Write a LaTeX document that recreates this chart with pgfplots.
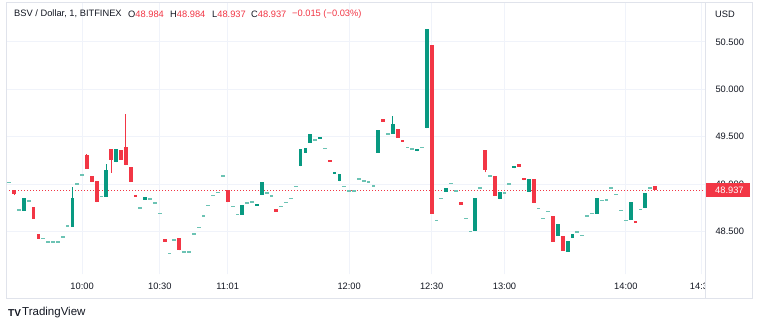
\documentclass[border=0pt]{standalone}
\usepackage{fontspec}
\setmainfont{Liberation Sans}
\usepackage{pgfplots}
\usepackage{pgfplotstable}
\pgfplotsset{compat=1.18}
\pgfdeclarelayer{bg}
\pgfsetlayers{bg,main}
\definecolor{tvgreen}{HTML}{089981}
\definecolor{tvred}{HTML}{F23645}
\definecolor{tvtext}{HTML}{131722}
\definecolor{tvgrid}{HTML}{F0F3FA}
\definecolor{tvborder}{HTML}{E0E3EB}
\definecolor{tvdoji}{HTML}{6CC3B4}

\pgfplotstableread{
i o h l c
0 49.018 49.018 49.018 49.018
1 48.941 48.941 48.885 48.895
2 48.729 48.729 48.729 48.729
3 48.722 48.849 48.722 48.849
4 48.825 48.825 48.825 48.825
5 48.754 48.754 48.637 48.637
6 48.472 48.472 48.423 48.423
7 48.430 48.430 48.430 48.430
8 48.391 48.391 48.391 48.391
9 48.391 48.391 48.391 48.391
10 48.391 48.391 48.391 48.391
11 48.444 48.444 48.444 48.444
12 48.563 48.563 48.563 48.563
13 48.550 48.969 48.550 48.859
14 49.004 49.004 49.004 49.004
15 49.096 49.096 49.096 49.096
16 49.303 49.321 49.163 49.163
17 49.089 49.089 49.022 49.022
18 49.029 49.029 48.807 48.807
19 48.874 48.874 48.874 48.874
20 48.867 49.212 48.867 49.149
21 49.371 49.371 49.118 49.256
22 49.229 49.371 49.229 49.371
23 49.356 49.356 49.258 49.258
24 49.388 49.734 49.198 49.198
25 49.181 49.181 49.022 49.022
26 48.888 48.888 48.867 48.867
27 48.751 48.751 48.751 48.751
28 48.835 48.864 48.835 48.864
29 48.846 48.846 48.846 48.846
30 48.803 48.803 48.803 48.803
31 48.695 48.695 48.695 48.695
32 48.423 48.423 48.395 48.395
33 48.272 48.272 48.272 48.272
34 48.412 48.412 48.412 48.412
35 48.437 48.437 48.303 48.303
36 48.289 48.289 48.289 48.289
37 48.289 48.289 48.289 48.289
38 48.476 48.476 48.476 48.476
39 48.547 48.547 48.547 48.547
40 48.666 48.666 48.666 48.666
41 48.779 48.779 48.779 48.779
42 48.881 48.881 48.881 48.881
43 48.916 48.916 48.916 48.916
44 49.086 49.086 49.086 49.086
45 48.941 48.941 48.807 48.807
46 48.768 48.768 48.768 48.768
47 48.684 48.684 48.684 48.684
48 48.680 48.785 48.680 48.785
49 48.803 48.803 48.803 48.803
50 48.814 48.814 48.814 48.814
51 48.775 48.790 48.775 48.790
52 48.885 49.018 48.885 49.018
53 48.909 48.909 48.909 48.909
54 48.877 48.877 48.877 48.877
55 48.737 48.737 48.711 48.711
56 48.768 48.768 48.768 48.768
57 48.811 48.811 48.811 48.811
58 48.853 48.853 48.853 48.853
59 48.976 48.976 48.976 48.976
60 49.187 49.371 49.187 49.371
61 49.329 49.382 49.329 49.382
62 49.434 49.530 49.434 49.530
63 49.469 49.469 49.469 49.469
64 49.483 49.498 49.483 49.498
65 49.377 49.377 49.377 49.377
66 49.258 49.258 49.237 49.237
67 49.117 49.128 49.117 49.128
68 49.029 49.110 49.029 49.110
69 48.976 48.976 48.976 48.976
70 48.933 48.933 48.933 48.933
71 48.933 48.933 48.933 48.933
72 49.057 49.057 49.057 49.057
73 49.036 49.036 49.036 49.036
74 49.025 49.025 49.025 49.025
75 48.983 48.983 48.983 48.983
76 49.329 49.575 49.329 49.575
77 49.688 49.688 49.656 49.656
78 49.533 49.533 49.533 49.533
79 49.530 49.723 49.530 49.638
80 49.582 49.582 49.487 49.487
81 49.466 49.466 49.445 49.445
82 49.388 49.388 49.388 49.388
83 49.371 49.371 49.371 49.371
84 49.346 49.371 49.346 49.371
85 49.388 49.388 49.388 49.388
86 49.589 50.632 49.589 50.632
87 50.470 50.470 48.687 48.687
88 48.621 48.621 48.621 48.621
89 48.853 48.853 48.853 48.853
90 48.920 48.959 48.920 48.959
91 49.007 49.007 49.007 49.007
92 48.930 48.930 48.930 48.930
93 48.807 48.807 48.782 48.782
94 48.642 48.642 48.642 48.642
95 48.504 48.504 48.504 48.504
96 48.504 48.849 48.504 48.849
97 48.959 48.959 48.959 48.959
98 49.364 49.364 49.124 49.145
99 49.089 49.089 49.089 49.089
100 49.089 49.089 48.877 48.877
101 48.842 48.920 48.842 48.920
102 48.906 48.906 48.906 48.906
103 49.004 49.004 49.004 49.004
104 49.166 49.191 49.166 49.191
105 49.208 49.208 49.184 49.184
106 49.068 49.068 49.039 49.039
107 48.920 49.054 48.920 49.054
108 49.054 49.054 48.800 48.800
109 48.747 48.747 48.747 48.747
110 48.642 48.642 48.642 48.642
111 48.716 48.716 48.716 48.716
112 48.666 48.666 48.391 48.391
113 48.455 48.581 48.455 48.581
114 48.455 48.455 48.296 48.296
115 48.285 48.402 48.285 48.402
116 48.430 48.479 48.430 48.479
117 48.497 48.497 48.497 48.497
118 48.462 48.462 48.462 48.462
119 48.666 48.666 48.666 48.666
120 48.695 48.695 48.695 48.695
121 48.687 48.849 48.687 48.849
122 48.832 48.832 48.832 48.832
123 48.838 48.838 48.838 48.838
124 48.959 48.959 48.959 48.959
125 48.891 48.891 48.891 48.891
126 48.726 48.726 48.726 48.726
127 48.621 48.621 48.621 48.621
128 48.621 48.807 48.621 48.807
129 48.616 48.616 48.592 48.592
130 48.737 48.737 48.737 48.737
131 48.747 48.909 48.747 48.909
132 48.959 48.959 48.959 48.959
133 48.984 48.984 48.937 48.937
}\candles

\begin{document}
\begin{tikzpicture}[x=1pt,y=1pt]
\begin{axis}[
  at={(0,0)}, anchor=south west,
  scale only axis, width=699pt, height=271pt,
  xmin=-0.68, xmax=143.3, ymin=48.053, ymax=50.909,
  axis line style={draw=none},
  major tick length=0pt,
  grid=major, grid style={tvgrid, line width=1pt},
  xtick={15,31,45,70,87,102,127,142.6},
  xticklabels={10:00,10:30,11:01,12:00,12:30,13:00,14:00,14:30},
  ytick={48.5,49,49.5,50,50.5},
  yticklabel pos=right,
  ticklabel style={font=\fontsize{9.3}{11}\selectfont, text=tvtext},
  yticklabel style={anchor=west, xshift=7pt, /pgf/number format/.cd, fixed, fixed zerofill, precision=3, assume math mode=true},
  xticklabel style={anchor=center, yshift=-12pt},
  error bars/error mark=none,
]
% last price line
\addplot[tvred, line width=1pt, dash pattern=on 1pt off 2pt] coordinates {(-0.68,48.937) (143.3,48.937)};
% wicks
\addplot[draw=none, mark=none, error bars/.cd, y dir=plus, y explicit, error bar style={draw=tvgreen, line width=1pt}]
  table[x=i, y expr={\thisrow{c}>\thisrow{o} ? \thisrow{l} : nan}, y error expr={\thisrow{h}-\thisrow{l}}] {\candles};
\addplot[draw=none, mark=none, error bars/.cd, y dir=plus, y explicit, error bar style={draw=tvred, line width=1pt}]
  table[x=i, y expr={\thisrow{c}<\thisrow{o} ? \thisrow{l} : nan}, y error expr={\thisrow{h}-\thisrow{l}}] {\candles};
% bodies
\addplot[draw=none, mark=none, error bars/.cd, y dir=both, y explicit, error bar style={draw=tvgreen, line width=3.8pt}]
  table[x=i, y expr={\thisrow{c}>\thisrow{o} ? (\thisrow{o}+\thisrow{c})/2 : nan}, y error expr={max(abs(\thisrow{c}-\thisrow{o})/2,0.006)}] {\candles};
\addplot[draw=none, mark=none, error bars/.cd, y dir=both, y explicit, error bar style={draw=tvred, line width=3.8pt}]
  table[x=i, y expr={\thisrow{c}<\thisrow{o} ? (\thisrow{o}+\thisrow{c})/2 : nan}, y error expr={max(abs(\thisrow{c}-\thisrow{o})/2,0.006)}] {\candles};
\addplot[draw=none, mark=none, error bars/.cd, y dir=both, y explicit, error bar style={draw=tvdoji, line width=3.8pt}]
  table[x=i, y expr={abs(\thisrow{c}-\thisrow{o})<0.0005 ? \thisrow{c} : nan}, y error expr={0.006}] {\candles};
\coordinate (o) at (rel axis cs:0,0);
\coordinate (lastp) at (axis cs:143.3,48.937);
\end{axis}
\pgfresetboundingbox
\begin{scope}[shift={(o)}, xshift=-6pt, yshift=-53pt]
\path[use as bounding box] (0,0) rectangle (760,327);
\begin{pgfonlayer}{bg}
\fill[white] (0,0) rectangle (760,327);
\end{pgfonlayer}
% clip the last time label at the price scale
\fill[white] (705.5,30) rectangle (751,52);
% frame
\draw[tvborder, line width=1pt] (6,29) rectangle (752,324);
\draw[tvborder, line width=1pt] (705,29) -- (705,324);
\end{scope}
% last price label
\fill[tvred] ([shift={(1pt,-7pt)}]lastp) rectangle ([shift={(45pt,7pt)}]lastp);
\node[anchor=west, inner sep=0pt, text=white, font=\fontsize{9.3}{11}\selectfont] at ([xshift=10pt]lastp) {48.937};
% header
\begin{scope}[shift={(o)}, xshift=-6pt, yshift=-53pt, every node/.style={anchor=west, inner sep=0pt, font=\fontsize{9.3}{11}\selectfont}]
\node[text=tvtext] at (14,313) {BSV / Dollar, 1, BITFINEX};
\node at (128,313) {\color{tvtext}O\color{tvred}48.984};
\node at (170,313) {\color{tvtext}H\color{tvred}48.984};
\node at (212,313) {\color{tvtext}L\color{tvred}48.937};
\node at (251,313) {\color{tvtext}C\color{tvred}48.937};
\node[text=tvred] at (292,313) {−0.015 (−0.03\%)};
\node[text=tvtext] at (715,313) {USD};
\node[text=tvtext, font=\fontsize{10}{12}\selectfont\bfseries] at (8,14) {TV};
\node[text=tvtext, font=\fontsize{11.5}{13}\selectfont] at (22,14) {TradingView};
\end{scope}
\end{tikzpicture}
\end{document}
